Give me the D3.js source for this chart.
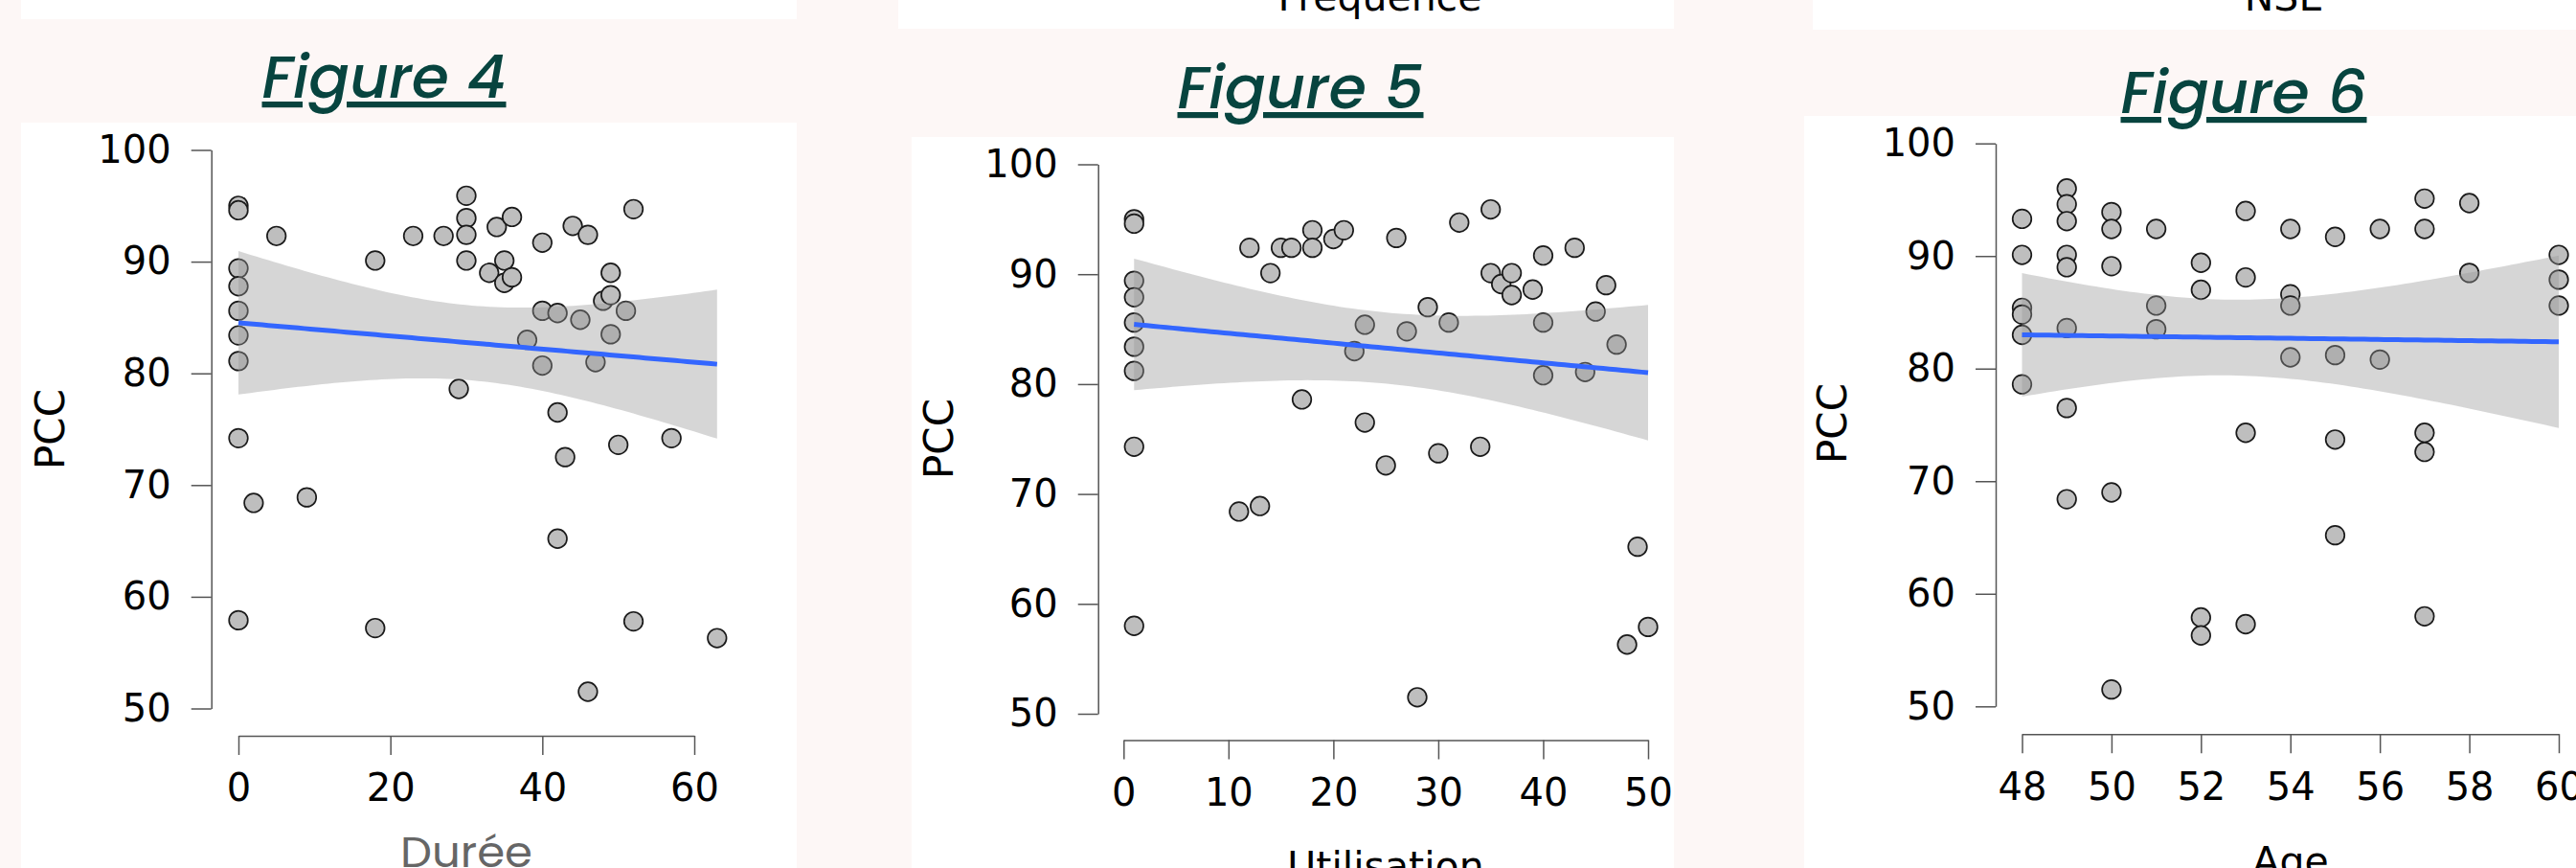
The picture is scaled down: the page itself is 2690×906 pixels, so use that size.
<!DOCTYPE html>
<html><head><meta charset="utf-8">
<script src="https://cdn.jsdelivr.net/npm/d3@7"></script>
<style>
html,body{margin:0;padding:0;background:#fdf7f6;overflow:hidden;}
svg{display:block;}
</style></head><body>
<svg id="chart" width="2690" height="906"></svg>
<script>
// ---------- data ----------
const yLabel = "PCC";
const figureTitles = ["Figure 4", "Figure 5", "Figure 6"];
const xTitles = ["Durée", "Utilisation", "Age"];
const aboveTitles = ["", "Fréquence", "NSE"];
const pccTicks = [50, 60, 70, 80, 90, 100];
const dureeTicks = [0, 20, 40, 60];
const utilisationTicks = [0, 10, 20, 30, 40, 50];
const ageTicks = [48, 50, 52, 54, 56, 58, 60];

const duree = [0,0,0,0,0,0,0,0,0,2,5,9,18,18,23,27,29,30,30,30,30,33,34,35,35,36,36,38,40,40,40,42,42,42,43,44,45,46,46,47,48,49,49,49,50,51,52,52,57,63];
const pccDuree = [95.0,94.6,89.4,87.8,85.6,83.4,81.1,74.2,57.9,68.4,92.3,68.9,90.1,57.2,92.3,92.3,78.6,95.9,93.9,92.4,90.1,89.0,93.1,90.1,88.1,94.0,88.6,83.0,91.7,85.6,80.7,85.4,76.5,65.2,72.5,93.2,84.8,92.4,51.5,81.0,86.5,89.0,87.0,83.5,73.6,85.6,94.7,57.8,74.2,56.3];

const utilisation = [1,1,1,1,1,1,1,1,1,11,12,13,14,15,16,17,18,18,20,21,22,23,23,25,26,27,28,29,30,31,32,34,35,35,36,37,37,39,40,40,40,43,44,45,46,47,48,49,50];
const pccUtilisation = [95.0,94.6,89.4,87.9,85.6,83.4,81.2,74.3,58.0,68.4,92.4,68.9,90.1,92.4,92.4,78.6,94.0,92.4,93.2,94.0,83.0,85.4,76.5,72.6,93.3,84.8,51.5,87.0,73.7,85.6,94.7,74.3,95.9,90.1,89.1,90.1,88.1,88.6,91.7,85.6,80.8,92.4,81.1,86.6,89.0,83.6,56.3,65.2,57.9];

const age = [48,48,48,48,48,48, 49,49,49,49,49,49,49,49, 50,50,50,50,50, 51,51,51, 52,52,52,52, 53,53,53,53, 54,54,54,54, 55,55,55,55, 56,56, 57,57,57,57,57, 58,58, 60,60,60];
const pccAge = [93.3,90.1,85.4,84.8,83.0,78.6, 96.0,94.6,93.1,90.1,89.0,83.6,76.5,68.4, 93.9,92.4,89.1,69.0,51.5, 92.4,85.6,83.5, 89.4,87.0,57.9,56.3, 94.0,88.1,74.3,57.3, 92.4,86.6,85.6,81.0, 91.7,81.2,73.7,65.2, 92.4,80.8, 95.1,92.4,74.3,72.6,58.0, 94.7,88.5, 90.1,87.9,85.6];

// ---------- layout (positions only) ----------
const panels = [
  { xs: duree, ys: pccDuree, xTicks: dureeTicks, xDomain: [0, 60],
    axisX: 220.7, axisY: 768, xRange: [249, 725], yRange: [739.5, 156.5],
    box: [22, 128, 832, 906], topBox: [22, -10, 832, 20],
    titleX: 401, titleY: 102, titleW: 255,
    xTitleX: 487, xTitleY: 905, xTitleStyle: "poppins",
    yLabX: 52, yLabY: 448, aboveX: 427, aboveY: 1 },
  { xs: utilisation, ys: pccUtilisation, xTicks: utilisationTicks, xDomain: [0, 50],
    axisX: 1146.7, axisY: 772.5, xRange: [1173.3, 1721], yRange: [745, 171.5],
    box: [952, 143, 1748, 906], topBox: [938, -10, 1748, 30],
    titleX: 1358, titleY: 113, titleW: 257,
    xTitleX: 1447, xTitleY: 918, xTitleStyle: "plain",
    yLabX: 980, yLabY: 458, aboveX: 1441, aboveY: 11 },
  { xs: age, ys: pccAge, xTicks: ageTicks, xDomain: [48, 60],
    axisX: 2084, axisY: 766.2, xRange: [2111.5, 2672], yRange: [737.3, 149.7],
    box: [1884, 121, 2700, 906], topBox: [1893, -10, 2700, 31],
    titleX: 2343, titleY: 118, titleW: 257,
    xTitleX: 2392, xTitleY: 913, xTitleStyle: "plain",
    yLabX: 1913, yLabY: 442, aboveX: 2385, aboveY: 11 }
];

function tQuantile975(df) {
  const z = 1.959963985;
  return z + (z**3 + z) / (4 * df) + (5 * z**5 + 16 * z**3 + 3 * z) / (96 * df * df)
    + (3 * z**7 + 19 * z**5 + 17 * z**3 - 15 * z) / (384 * df ** 3);
}

function linearFit(xs, ys) {
  const n = xs.length;
  const mx = d3.mean(xs), my = d3.mean(ys);
  let sxx = 0, sxy = 0;
  for (let i = 0; i < n; i++) { sxx += (xs[i] - mx) ** 2; sxy += (xs[i] - mx) * (ys[i] - my); }
  const b = sxy / sxx, a = my - b * mx;
  let sse = 0;
  for (let i = 0; i < n; i++) sse += (ys[i] - (a + b * xs[i])) ** 2;
  const s = Math.sqrt(sse / (n - 2));
  const t = tQuantile975(n - 2);
  const [x0, x1] = d3.extent(xs);
  const grid = d3.range(0, 81).map(k => x0 + (x1 - x0) * k / 80);
  return grid.map(x => {
    const f = a + b * x;
    const se = s * Math.sqrt(1 / n + (x - mx) ** 2 / sxx);
    return { x, fit: f, lo: f - t * se, hi: f + t * se };
  });
}

const svg = d3.select("#chart");
svg.append("rect").attr("width", 2690).attr("height", 906).attr("fill", "#fdf7f6");

panels.forEach((p, i) => {
  const g = svg.append("g");
  // white cards
  g.append("rect").attr("x", p.topBox[0]).attr("y", p.topBox[1])
    .attr("width", p.topBox[2] - p.topBox[0]).attr("height", p.topBox[3] - p.topBox[1])
    .attr("fill", "#ffffff");
  g.append("rect").attr("x", p.box[0]).attr("y", p.box[1])
    .attr("width", p.box[2] - p.box[0]).attr("height", p.box[3] - p.box[1])
    .attr("fill", "#ffffff");

  if (aboveTitles[i]) {
    g.append("text").attr("x", p.aboveX).attr("y", p.aboveY)
      .attr("text-anchor", "middle").attr("font-family", "DejaVu Sans")
      .attr("font-size", 41).attr("fill", "#000").text(aboveTitles[i]);
  }

  // figure title
  g.append("text").attr("x", p.titleX).attr("y", p.titleY)
    .attr("text-anchor", "middle")
    .attr("font-family", "Poppins, Inter, 'Open Sans', sans-serif")
    .attr("font-style", "italic").attr("font-weight", 500)
    .attr("font-size", 62).attr("fill", "#07443f")
    .attr("textLength", p.titleW).attr("lengthAdjust", "spacingAndGlyphs")
    .style("text-decoration", "underline")
    .text(figureTitles[i]);

  const x = d3.scaleLinear().domain(p.xDomain).range(p.xRange);
  const y = d3.scaleLinear().domain([50, 100]).range(p.yRange);

  // axes
  const ya = g.append("g").attr("transform", `translate(${p.axisX},0)`)
    .call(d3.axisLeft(y).tickValues(pccTicks).tickSize(21).tickSizeOuter(0).tickPadding(21));
  const xa = g.append("g").attr("transform", `translate(0,${p.axisY})`)
    .call(d3.axisBottom(x).tickValues(p.xTicks).tickSize(20).tickSizeOuter(0).tickPadding(20));
  [ya, xa].forEach(ax => {
    ax.selectAll("path,line").attr("stroke", "#555").attr("stroke-width", 1.5);
    ax.selectAll("text").attr("font-family", "DejaVu Sans").attr("font-size", 40).attr("fill", "#000");
  });

  // points
  g.append("g").selectAll("circle").data(p.xs.map((v, k) => [v, p.ys[k]])).join("circle")
    .attr("cx", d => x(d[0])).attr("cy", d => y(d[1])).attr("r", 9.8)
    .attr("fill", "#bebebe").attr("stroke", "#1a1a1a").attr("stroke-width", 1.7);

  // regression band and line
  const fit = linearFit(p.xs, p.ys);
  g.append("path").datum(fit)
    .attr("d", d3.area().x(d => x(d.x)).y0(d => y(d.lo)).y1(d => y(d.hi)))
    .attr("fill", "#999999").attr("fill-opacity", 0.4);
  g.append("path").datum(fit)
    .attr("d", d3.line().x(d => x(d.x)).y(d => y(d.fit)))
    .attr("fill", "none").attr("stroke", "#3366ff").attr("stroke-width", 5);

  // y label
  g.append("text").attr("transform", `translate(${p.yLabX},${p.yLabY}) rotate(-90)`)
    .attr("text-anchor", "middle").attr("dy", "0.36em")
    .attr("font-family", "DejaVu Sans").attr("font-size", 42).attr("fill", "#000")
    .text(yLabel);

  // x title
  const xt = g.append("text").attr("x", p.xTitleX).attr("y", p.xTitleY)
    .attr("text-anchor", "middle").text(xTitles[i]);
  if (p.xTitleStyle === "poppins") {
    xt.attr("font-family", "Poppins, 'Open Sans', sans-serif").attr("font-size", 45)
      .attr("fill", "#666666").attr("textLength", 138).attr("lengthAdjust", "spacingAndGlyphs");
  } else {
    xt.attr("font-family", "DejaVu Sans").attr("font-size", 41).attr("fill", "#000");
  }
});
</script>
</body></html>
